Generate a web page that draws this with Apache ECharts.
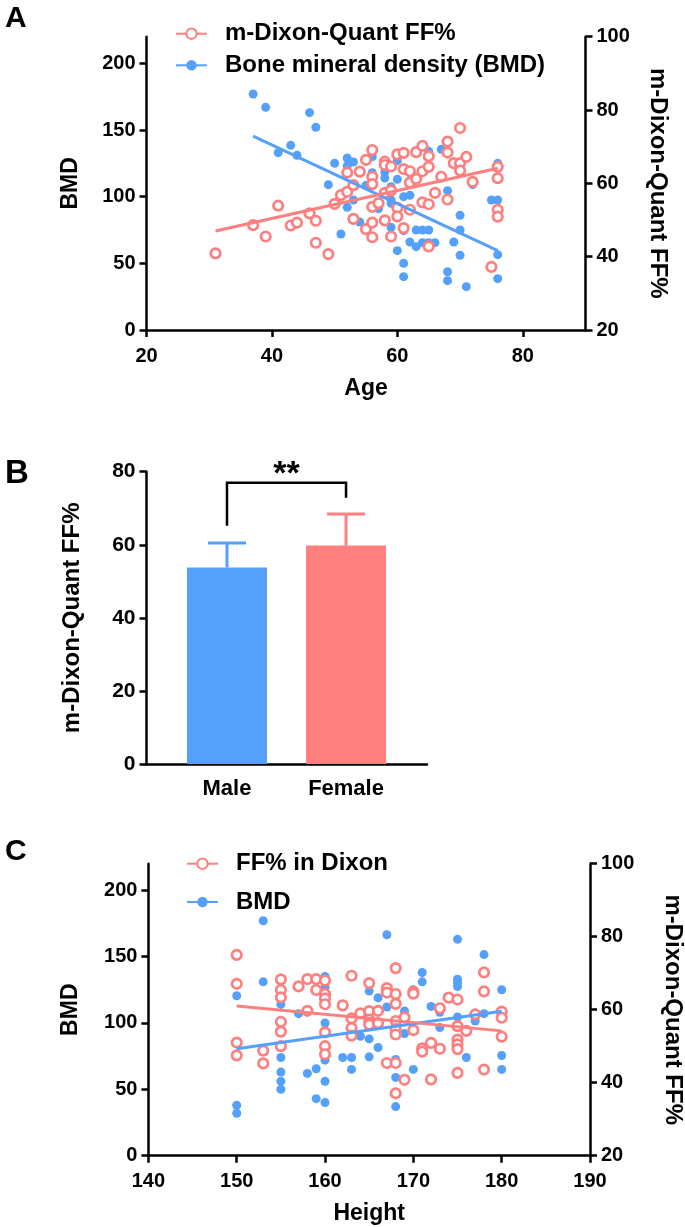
<!DOCTYPE html>
<html><head><meta charset="utf-8">
<script src="https://cdn.jsdelivr.net/npm/echarts@6/dist/echarts.min.js"></script>
<style>html,body{margin:0;padding:0;background:#fff}#c{width:685px;height:1227px}</style>
</head><body><div id="c"></div>
<script>
// ---------- Panel A : Age ----------
const ageFF = [[31,40.9],[37,48.6],[39,45.5],[41,53.9],[43,48.5],[44,49.3],[46,51.8],[47,49.8],[47,43.8],[49,40.7],[50,54.4],[51,56.8],[52,57.7],[52,62.9],[53,59.5],[53,50.3],[54,63.2],[55,66.4],[55,47.5],[56,69.1],[56,61.8],[56,59.8],[56,53.6],[56,49.3],[56,45.3],[57,54.6],[58,65.9],[58,65],[58,57.4],[58,49.9],[59,64.6],[59,58.1],[59,45.5],[60,67.9],[60,53.3],[60,51],[61,63.9],[61,47.8],[61,68.3],[62,63.3],[62,60.2],[62,52.8],[63,68.5],[63,61.2],[64,70.2],[64,63.3],[64,54.8],[65,67.4],[65,64.5],[65,54.3],[65,42.8],[66,57.4],[67,61.8],[68,71.4],[68,68.4],[68,55.6],[69,65.5],[70,75.1],[70,65.5],[70,63.5],[71,67.2],[72,60.4],[75,37.2],[76,64.5],[76,61.4],[76,52.8],[76,50.9]];
const ageBMD = [[37,177],[39,167],[41,133],[43,138.5],[44,131],[46,163],[47,152],[49,109],[50,125],[51,72],[52,129],[52,123],[52,92],[53,126],[53,97.5],[54,81],[55,108.5],[56,130],[56,118],[57,91],[58,114],[58,118.5],[59,107.5],[59,97.5],[59,95],[59,77],[60,113],[60,127],[60,59.5],[61,100],[61,74.5],[61,50],[61,40],[62,101],[62,66],[63,62.5],[63,75],[64,65.5],[64,75],[65,65.5],[65,75],[65,134],[66,65.5],[67,135.5],[68,104.5],[68,43.7],[68,37],[69,66],[70,86],[70,75],[70,56],[71,32.5],[72,109],[75,97.5],[76,97.5],[76,125],[76,56.5],[76,38.5]];
const fitAgeFF = [[31,47],[76,64.1]];
const fitAgeBMD = [[37,145.5],[76,59.5]];
const ageTicks = [20,40,60,80];
const bmdTicks = [0,50,100,150,200];
const ffTicks = [20,40,60,80,100];

// ---------- Panel B : Sex ----------
const sexCats = ['Male','Female'];
const sexPos = [1,2];
const sexMean = [53.8,59.8];
const sexUpper = [60.5,68.4];
const barTicks = [0,20,40,60,80];
const sigLevel = 77;
const sigLegs = [65.2,72.9];
const sigText = '**';

// ---------- Panel C : Height ----------
const heightFF = [[150,75],[150,67.1],[150,51],[150,47.5],[153,48.8],[153,45.3],[155,68.3],[155,65.4],[155,63.4],[155,56.7],[155,54],[155,50],[157,66.4],[158,68.4],[158,59.7],[159,68.4],[159,65.4],[160,68],[160,64.3],[160,63.1],[160,61.5],[160,53.8],[160,50],[160,47.8],[162,61.2],[163,69.3],[163,57.6],[163,55],[163,52.9],[164,59],[165,67.3],[165,59.6],[165,57.3],[165,55.9],[166,59.7],[166,56.3],[167,65.9],[167,64.7],[167,45.4],[168,71.4],[168,64.3],[168,61.6],[168,56.9],[168,54.7],[168,53.2],[168,45.4],[168,37.1],[169,57.9],[169,40.8],[170,64.9],[170,64.4],[170,54.4],[171,49.4],[171,48.5],[172,50.9],[172,40.9],[173,60.4],[173,49.3],[174,63.3],[175,62.8],[175,55.5],[175,51.8],[175,50.5],[175,49.2],[175,42.7],[176,54.2],[177,58.7],[178,70.2],[178,65],[178,43.6],[180,59.5],[180,57.8],[180,52.6]];
const heightBMD = [[150,120.5],[150,38],[150,32],[153,177],[153,131],[155,114],[155,74],[155,63],[155,56],[155,50],[157,107],[158,62],[159,65.5],[159,43],[160,135],[160,127],[160,100],[160,72],[160,56],[160,40],[162,74],[163,74],[163,65],[164,90],[165,124],[165,88],[165,74.5],[166,119],[166,81.5],[167,166.5],[167,112],[168,72.5],[168,59],[168,37],[169,109],[169,92],[170,125],[170,65],[171,138],[171,131],[172,112.5],[173,108],[173,96.5],[175,163],[175,133],[175,130.5],[175,127.5],[175,104.5],[176,74],[177,101.5],[178,151.5],[178,107],[180,125],[180,75.5],[180,65]];
const fitHeightFF = [[150,61],[180,54.2]];
const fitHeightBMD = [[150,80.5],[180,108.8]];
const heightTicks = [140,150,160,170,180,190];

// ---------- styles ----------
const BLUE = '#55A0FA', RED = '#FF7F7F';
const FONT = '"Liberation Sans", Arial, sans-serif';
const lbl = (size) => ({color:'#000', fontWeight:'bold', fontSize:size, fontFamily:FONT});
const axLine = {show:true, lineStyle:{color:'#000', width:2.5}};
const axTick = (vals) => ({show:true, length:7, lineStyle:{color:'#000', width:2.5}, customValues:vals});
const nameStyle = (s) => ({color:'#000', fontWeight:'bold', fontSize:s, fontFamily:FONT});

function valAxis(o){
  return Object.assign({type:'value', splitLine:{show:false}, axisLine:axLine, nameLocation:'middle'}, o);
}

const chart = echarts.init(document.getElementById('c'), null, {renderer:'canvas'});
chart.setOption({
  animation:false,
  backgroundColor:'#fff',
  grid:[
    {left:146.5, right:99.5, top:36.7, height:293.3, outerBoundsMode:'none', containLabel:false},
    {left:146.5, right:258, top:471.7, height:292.3, outerBoundsMode:'none', containLabel:false},
    {left:148.4, right:95, top:863.7, height:292, outerBoundsMode:'none', containLabel:false}
  ],
  xAxis:[
    valAxis({gridIndex:0, min:20, max:90, axisTick:axTick(ageTicks),
      axisLabel:Object.assign(lbl(20),{margin:16, customValues:ageTicks}),
      name:'Age', nameGap:47, nameTextStyle:nameStyle(23)}),
    valAxis({gridIndex:1, min:0.324, max:2.68, axisTick:{show:false},
      axisLabel:Object.assign(lbl(22),{margin:14, customValues:sexPos, formatter:(v)=>sexCats[Math.round(v)-1]})}),
    valAxis({gridIndex:2, min:140, max:190, interval:10, axisTick:axTick(heightTicks),
      axisLabel:Object.assign(lbl(20),{margin:16, customValues:heightTicks}),
      name:'Height', nameGap:46, nameTextStyle:nameStyle(23)})
  ],
  yAxis:[
    valAxis({gridIndex:0, min:0, max:220, axisTick:axTick(bmdTicks),
      axisLabel:Object.assign(lbl(20),{margin:11, customValues:bmdTicks}),
      name:'BMD', nameGap:64, nameRotate:90, nameTextStyle:nameStyle(23)}),
    valAxis({gridIndex:0, position:'right', min:20, max:100, interval:20, axisTick:axTick(ffTicks),
      axisLabel:Object.assign(lbl(20),{margin:11}),
      name:'m-Dixon-Quant FF%', nameGap:60, nameRotate:-90, nameTextStyle:nameStyle(24)}),
    valAxis({gridIndex:1, min:0, max:80, interval:20, axisTick:axTick(barTicks),
      axisLabel:Object.assign(lbl(21),{margin:11}),
      name:'m-Dixon-Quant FF%', nameGap:62, nameRotate:90, nameTextStyle:nameStyle(24)}),
    valAxis({gridIndex:2, min:0, max:220, axisTick:axTick(bmdTicks),
      axisLabel:Object.assign(lbl(20),{margin:11, customValues:bmdTicks}),
      name:'BMD', nameGap:66, nameRotate:90, nameTextStyle:nameStyle(23)}),
    valAxis({gridIndex:2, position:'right', min:20, max:100, interval:20, axisTick:axTick(ffTicks),
      axisLabel:Object.assign(lbl(20),{margin:11}),
      name:'m-Dixon-Quant FF%', nameGap:71, nameRotate:-90, nameTextStyle:nameStyle(24)})
  ],
  legend:[
    {data:['m-Dixon-Quant FF%','Bone mineral density (BMD)'], orient:'vertical', left:170, top:15.7,
     itemWidth:31, itemHeight:13, itemGap:5.6, selectedMode:false,
     textStyle:Object.assign(lbl(24),{lineHeight:26, padding:[0,0,0,13]})},
    {data:['FF% in Dixon','BMD'], orient:'vertical', left:181, top:845.7,
     itemWidth:31, itemHeight:13, itemGap:12.3, selectedMode:false,
     textStyle:Object.assign(lbl(24),{lineHeight:26, padding:[0,0,0,13]})}
  ],
  graphic:[
    {type:'text', left:5, top:4, style:{text:'A', font:'bold 30px '+FONT, fill:'#000'}},
    {type:'text', left:5, top:457, style:{text:'B', font:'bold 33px '+FONT, fill:'#000'}},
    {type:'text', left:5, top:837, style:{text:'C', font:'bold 30px '+FONT, fill:'#000'}}
  ],
  series:[
    // Panel A
    {type:'scatter', name:'bmdA', xAxisIndex:0, yAxisIndex:0, data:ageBMD, symbol:'circle', symbolSize:9,
     itemStyle:{color:BLUE, opacity:1}},
    {type:'line', name:'Bone mineral density (BMD)', xAxisIndex:0, yAxisIndex:0, data:fitAgeBMD,
     symbol:'circle', showSymbol:false, lineStyle:{color:BLUE, width:3}, itemStyle:{color:BLUE}},
    {type:'scatter', name:'ffA', xAxisIndex:0, yAxisIndex:1, data:ageFF, symbol:'circle', symbolSize:9.5,
     itemStyle:{color:'#fff', borderColor:RED, borderWidth:2.7, opacity:1}},
    {type:'line', name:'m-Dixon-Quant FF%', xAxisIndex:0, yAxisIndex:1, data:fitAgeFF,
     symbol:'emptyCircle', showSymbol:false, lineStyle:{color:RED, width:3}, itemStyle:{color:RED}},
    // Panel B
    {type:'bar', xAxisIndex:1, yAxisIndex:2, barWidth:80,
     data:sexCats.map((c,i)=>({value:[sexPos[i], sexMean[i]], itemStyle:{color:i===0?BLUE:RED}}))},
    {type:'custom', xAxisIndex:1, yAxisIndex:2, z:3,
     data:sexCats.map((c,i)=>[sexPos[i], sexMean[i], sexUpper[i]]),
     renderItem:(params, api)=>{
       const p0 = api.coord([api.value(0), api.value(1)]);
       const p1 = api.coord([api.value(0), api.value(2)]);
       const col = params.dataIndex===0?BLUE:RED;
       return {type:'group', children:[
         {type:'line', shape:{x1:p0[0],y1:p0[1],x2:p1[0],y2:p1[1]}, style:{stroke:col, lineWidth:3}},
         {type:'line', shape:{x1:p1[0]-19,y1:p1[1],x2:p1[0]+19,y2:p1[1]}, style:{stroke:col, lineWidth:3}}
       ]};
     }},
    {type:'custom', xAxisIndex:1, yAxisIndex:2, z:3,
     data:[[sexPos[0], sigLevel, sexPos[1], sigLegs[0], sigLegs[1]]],
     renderItem:(params, api)=>{
       const a = api.coord([api.value(0), api.value(3)]);
       const b = api.coord([api.value(0), api.value(1)]);
       const c = api.coord([api.value(2), api.value(1)]);
       const d = api.coord([api.value(2), api.value(4)]);
       return {type:'group', children:[
         {type:'polyline', shape:{points:[a,b,c,d]}, style:{stroke:'#000', lineWidth:2.5, fill:null}},
         {type:'text', x:(b[0]+c[0])/2, y:b[1]+9, style:{text:sigText, font:'bold 34px '+FONT, fill:'#000', align:'center', verticalAlign:'bottom'}}
       ]};
     }},
    // Panel C
    {type:'scatter', name:'bmdC', xAxisIndex:2, yAxisIndex:3, data:heightBMD, symbol:'circle', symbolSize:9,
     itemStyle:{color:BLUE, opacity:1}},
    {type:'line', name:'BMD', xAxisIndex:2, yAxisIndex:3, data:fitHeightBMD,
     symbol:'circle', showSymbol:false, lineStyle:{color:BLUE, width:3}, itemStyle:{color:BLUE}},
    {type:'scatter', name:'ffC', xAxisIndex:2, yAxisIndex:4, data:heightFF, symbol:'circle', symbolSize:9.5,
     itemStyle:{color:'#fff', borderColor:RED, borderWidth:2.7, opacity:1}},
    {type:'line', name:'FF% in Dixon', xAxisIndex:2, yAxisIndex:4, data:fitHeightFF,
     symbol:'emptyCircle', showSymbol:false, lineStyle:{color:RED, width:3}, itemStyle:{color:RED}}
  ]
});
</script></body></html>
